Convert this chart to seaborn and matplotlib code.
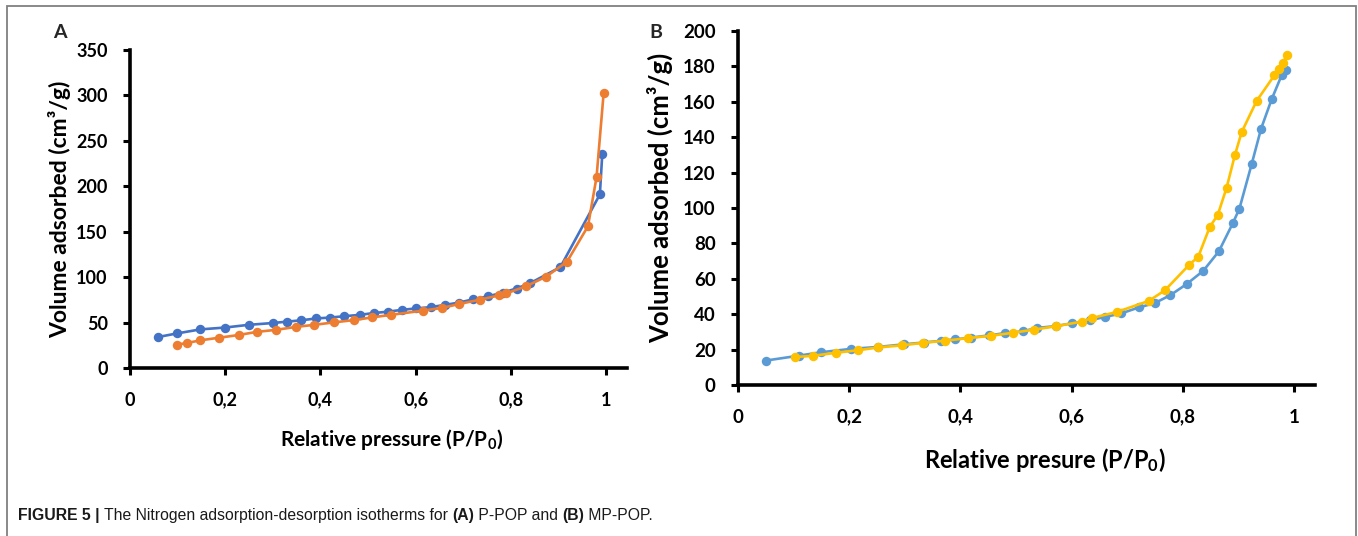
import matplotlib
matplotlib.use("Agg")
import matplotlib.pyplot as plt
from matplotlib.patches import Rectangle
from matplotlib.ticker import FixedLocator, FixedFormatter
import seaborn as sns

# Panel A: P-POP
a_ads_x = [0.058, 0.098, 0.148, 0.199, 0.249, 0.300, 0.329, 0.360, 0.390, 0.420,
           0.450, 0.483, 0.512, 0.542, 0.571, 0.600, 0.632, 0.662, 0.691, 0.720,
           0.753, 0.783, 0.812, 0.841, 0.904, 0.987, 0.992]
a_ads_y = [34.0, 38.0, 42.5, 44.5, 47.5, 49.5, 51.0, 52.5, 54.5, 55.5,
           57.0, 58.5, 60.5, 62.0, 64.0, 65.5, 67.0, 69.5, 72.0, 75.5,
           79.0, 83.0, 87.5, 93.5, 111.0, 191.0, 235.0]
a_des_x = [0.098, 0.120, 0.148, 0.187, 0.228, 0.267, 0.307, 0.348, 0.387, 0.428,
           0.470, 0.509, 0.549, 0.615, 0.656, 0.692, 0.735, 0.776, 0.790, 0.832,
           0.874, 0.918, 0.962, 0.980, 0.995]
a_des_y = [25.8, 27.5, 30.5, 33.3, 36.3, 39.8, 42.0, 45.2, 47.5, 50.2,
           52.7, 55.7, 58.6, 63.1, 66.2, 70.5, 75.2, 80.0, 82.0, 90.0,
           100.5, 117.0, 156.0, 210.0, 303.0]

# Panel B: MP-POP
b_ads_x = [0.050, 0.110, 0.149, 0.203, 0.252, 0.299, 0.334, 0.366, 0.391, 0.420,
           0.451, 0.480, 0.512, 0.537, 0.572, 0.600, 0.633, 0.661, 0.689, 0.721,
           0.750, 0.778, 0.807, 0.837, 0.865, 0.890, 0.902, 0.924, 0.941, 0.960,
           0.978, 0.985]
b_ads_y = [13.8, 16.6, 18.5, 20.4, 21.5, 23.0, 24.0, 25.0, 25.8, 26.8,
           28.0, 29.3, 30.3, 32.2, 33.3, 34.8, 36.6, 38.5, 40.4, 43.8,
           46.3, 50.8, 57.0, 64.5, 75.5, 91.3, 99.6, 124.7, 144.8, 161.4,
           175.0, 178.0]
b_des_x = [0.103, 0.135, 0.176, 0.215, 0.252, 0.295, 0.332, 0.372, 0.414, 0.455,
           0.494, 0.533, 0.572, 0.618, 0.636, 0.682, 0.739, 0.768, 0.812, 0.828,
           0.849, 0.863, 0.879, 0.894, 0.906, 0.933, 0.965, 0.974, 0.980, 0.988]
b_des_y = [15.8, 16.5, 18.2, 19.6, 21.2, 22.4, 23.8, 25.0, 26.5, 27.8,
           29.5, 31.3, 33.2, 35.8, 37.8, 41.3, 47.5, 53.5, 68.0, 72.5,
           89.5, 96.0, 111.5, 130.0, 142.8, 160.5, 175.0, 178.5, 182.0, 186.5]

x_ticks = [0, 0.2, 0.4, 0.6, 0.8, 1.0]
x_tick_labels = ["0", "0,2", "0,4", "0,6", "0,8", "1"]
a_y_ticks = [0, 50, 100, 150, 200, 250, 300, 350]
b_y_ticks = [0, 20, 40, 60, 80, 100, 120, 140, 160, 180, 200]

YLABEL = "Volume adsorbed (cm³/g)"
CAPTION = [("FIGURE 5 | ", "bold"),
           ("The Nitrogen adsorption-desorption isotherms for ", "normal"),
           ("(A)", "bold"), (" P-POP and ", "normal"),
           ("(B)", "bold"), (" MP-POP.", "normal")]

sns.set_theme(style="white")
plt.rcParams["font.family"] = ["Lato", "DejaVu Sans"]
plt.rcParams["mathtext.fontset"] = "custom"
plt.rcParams["mathtext.rm"] = "Lato:bold"
plt.rcParams["mathtext.bf"] = "Lato:bold"
plt.rcParams["mathtext.it"] = "Lato:bold"

W, H = 1358, 536
fig = plt.figure(figsize=(W / 100, H / 100), dpi=100)


def px_axes(left, right, bottom, top):
    return fig.add_axes([left / W, 1 - bottom / H, (right - left) / W, (bottom - top) / H])


def style_axis(ax, xmax, ymax, yticks, tick_size, xlabel, xl_size, yl_size, xl_pos, yl_pos):
    ax.set_xlim(0, xmax)
    ax.set_ylim(0, ymax)
    for side in ["top", "right"]:
        ax.spines[side].set_visible(False)
    for side in ["left", "bottom"]:
        ax.spines[side].set_color("black")
        ax.spines[side].set_linewidth(2.6)
    ax.xaxis.set_major_locator(FixedLocator(x_ticks))
    ax.xaxis.set_major_formatter(FixedFormatter(x_tick_labels))
    ax.yaxis.set_major_locator(FixedLocator(yticks))
    ax.yaxis.set_major_formatter(FixedFormatter([str(t) for t in yticks]))
    ax.tick_params(axis="both", which="major", direction="out", length=5, width=2.2,
                   color="black", labelsize=tick_size, labelcolor="black")
    ax.tick_params(axis="x", pad=12)
    ax.tick_params(axis="y", pad=11)
    ax.xaxis.set_ticks_position("bottom")
    ax.yaxis.set_ticks_position("left")
    for lab in ax.get_xticklabels() + ax.get_yticklabels():
        lab.set_fontweight("bold")
    ax.set_xlabel(xlabel, fontsize=xl_size, fontweight="bold", color="black")
    ax.set_ylabel(YLABEL, fontsize=yl_size, fontweight="bold", color="black")
    ax.xaxis.set_label_coords(*xl_pos)
    ax.yaxis.set_label_coords(*yl_pos)
    ax.set_facecolor("white")
    ax.grid(False)


def draw(ax, x, y, color, z):
    sns.lineplot(x=x, y=y, ax=ax, color=color, marker="o", markersize=6.8,
                 markeredgewidth=0, linewidth=1.9, estimator=None, zorder=z)


ax_a = px_axes(130, 627, 368, 50)
draw(ax_a, a_ads_x, a_ads_y, "#4472C4", 3)
draw(ax_a, a_des_x, a_des_y, "#ED7D31", 4)
style_axis(ax_a, 1.044, 350, a_y_ticks, 13, "Relative pressure (P/P$_0$)", 15, 16.5,
           (0.527, -0.185), (-0.118, 0.5))

ax_b = px_axes(738, 1315, 385, 31)
draw(ax_b, b_ads_x, b_ads_y, "#5B9BD5", 3)
draw(ax_b, b_des_x, b_des_y, "#FFC000", 4)
style_axis(ax_b, 1.038, 200, b_y_ticks, 13.5, "Relative presure (P/P$_0$)", 17, 18.5,
           (0.532, -0.172), (-0.112, 0.53))

fig.text(60 / W, 1 - 33 / H, "A", fontsize=14, fontweight="bold", ha="center", va="center")
fig.text(656 / W, 1 - 33 / H, "B", fontsize=14, fontweight="bold", ha="center", va="center")

# outer frame
fig.add_artist(Rectangle((7 / W, -0.05), (1356 - 7) / W, 1.05 - 6 / H,
                         transform=fig.transFigure, fill=False,
                         edgecolor="#808080", linewidth=1.3))

# caption with mixed weights, each piece placed right after the previous one
prev = None
for txt, weight in CAPTION:
    kw = dict(fontsize=11.3, fontweight=weight, color="#1a1a1a",
              family=["Liberation Sans", "DejaVu Sans"])
    if prev is None:
        prev = fig.text(18 / W, 1 - 520 / H, txt, ha="left", va="baseline", **kw)
    else:
        prev = fig.text(0, 0, txt, ha="left", va="bottom", **kw)
        prev.remove()
        prev = plt.annotate(txt, xy=(1, 0), xycoords=last, xytext=(0, 0),
                            textcoords="offset points", ha="left", va="bottom",
                            annotation_clip=False, **kw)
    last = prev

fig.savefig("out.png", dpi=100, facecolor="white")
